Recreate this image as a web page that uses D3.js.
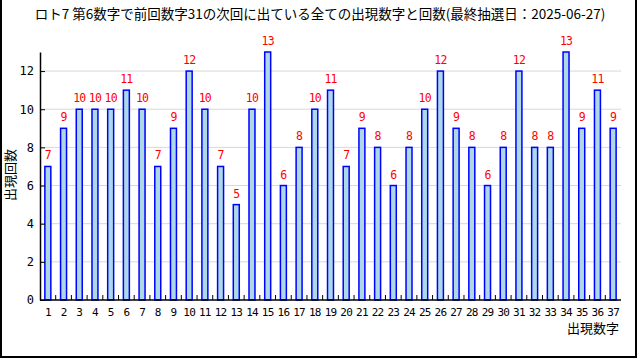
<!DOCTYPE html>
<html>
<head>
<meta charset="utf-8">
<script src="https://cdn.jsdelivr.net/npm/d3@7"></script>
<style>
  body { margin: 0; background: #fff; }
  svg text { font-family: "DejaVu Sans Mono", "Noto Sans CJK JP", monospace; }
  .cjk { font-family: "Noto Sans CJK JP", sans-serif !important; }
</style>
</head>
<body>
<div id="plot"></div>
<script>
// Data
const numbers = d3.range(1, 38).map(String);
const counts = [7, 9, 10, 10, 10, 11, 10, 7, 9, 12, 10, 7, 5, 10, 13, 6, 8, 10, 11, 7,
                9, 8, 6, 8, 10, 12, 9, 8, 6, 8, 12, 8, 8, 13, 9, 11, 9];
const yTicks = [0, 2, 4, 6, 8, 10, 12];
const title = "ロト7 第6数字で前回数字31の次回に出ている全ての出現数字と回数(最終抽選日：2025-06-27)";

const W = 640, H = 360;
const margin = {top: 52, right: 19, bottom: 60, left: 40};
const width = W - margin.left - margin.right;
const height = H - margin.top - margin.bottom;

const svg = d3.select("#plot")
    .append("svg")
    .attr("width", W)
    .attr("height", H);

// outer frame
svg.append("rect")
    .attr("x", 1).attr("y", -2)
    .attr("width", 635).attr("height", 359)
    .attr("fill", "none")
    .attr("stroke", "#000")
    .attr("stroke-width", 2);

const g = svg.append("g")
    .attr("transform", `translate(${margin.left},${margin.top})`);

const x = d3.scaleBand()
    .domain(numbers)
    .range([0, width])
    .paddingInner(0.62)
    .paddingOuter(0.31);

const y = d3.scaleLinear()
    .domain([0, 13])
    .range([height, 0]);

// gridlines
g.selectAll(".grid")
    .data(yTicks.filter(d => d > 0))
    .join("line")
    .attr("x1", 0).attr("x2", width)
    .attr("y1", d => y(d)).attr("y2", d => y(d))
    .attr("stroke", "#d8d8d8")
    .attr("stroke-width", 1);

// bars
g.selectAll(".bar")
    .data(counts)
    .join("rect")
    .attr("x", (d, i) => x(numbers[i]))
    .attr("y", d => y(d))
    .attr("width", x.bandwidth())
    .attr("height", d => height - y(d))
    .attr("fill", "#add8e6")
    .attr("stroke", "#0000ff")
    .attr("stroke-width", 1.5);

// value labels
g.selectAll(".val")
    .data(counts)
    .join("text")
    .attr("x", (d, i) => x(numbers[i]) + x.bandwidth() / 2)
    .attr("y", d => y(d) - 7)
    .attr("text-anchor", "middle")
    .attr("fill", "#ff0000")
    .style("font-size", "11.5px")
    .style("letter-spacing", "-0.8px")
    .text(d => d);

// y axis
const yAxis = g.append("g")
    .call(d3.axisLeft(y).tickValues(yTicks).tickSize(-5).tickPadding(6).tickSizeOuter(0));
yAxis.select(".domain").attr("stroke", "#000").attr("stroke-width", 1.5);
yAxis.selectAll("text")
    .style("font-size", "12px")
    .style("font-family", "'DejaVu Sans Mono', monospace")
    .attr("fill", "#000");

// x axis: line, boundary ticks pointing up, labels centered under bars
g.append("line")
    .attr("x1", 0).attr("x2", width)
    .attr("y1", height).attr("y2", height)
    .attr("stroke", "#000").attr("stroke-width", 1.5);

const step = x.step();
g.selectAll(".xtick")
    .data(numbers.slice(0, -1))
    .join("line")
    .attr("x1", d => x(d) + x.bandwidth() / 2 + step / 2)
    .attr("x2", d => x(d) + x.bandwidth() / 2 + step / 2)
    .attr("y1", height).attr("y2", height - 5)
    .attr("stroke", "#000").attr("stroke-width", 1);

g.selectAll(".xlab")
    .data(numbers)
    .join("text")
    .attr("x", d => x(d) + x.bandwidth() / 2)
    .attr("y", height + 16)
    .attr("text-anchor", "middle")
    .style("font-size", "11px")
    .style("letter-spacing", "-0.8px")
    .text(d => d);

// axis titles
svg.append("text")
    .attr("class", "cjk")
    .attr("transform", "translate(15,175) rotate(-90)")
    .attr("text-anchor", "middle")
    .style("font-size", "13px")
    .text("出現回数");

svg.append("text")
    .attr("class", "cjk")
    .attr("x", 619).attr("y", 333)
    .attr("text-anchor", "end")
    .style("font-size", "13px")
    .text("出現数字");

// title
svg.append("text")
    .attr("class", "cjk")
    .attr("x", 320).attr("y", 19)
    .attr("text-anchor", "middle")
    .style("font-size", "13.5px")
    .text(title);
</script>
</body>
</html>
